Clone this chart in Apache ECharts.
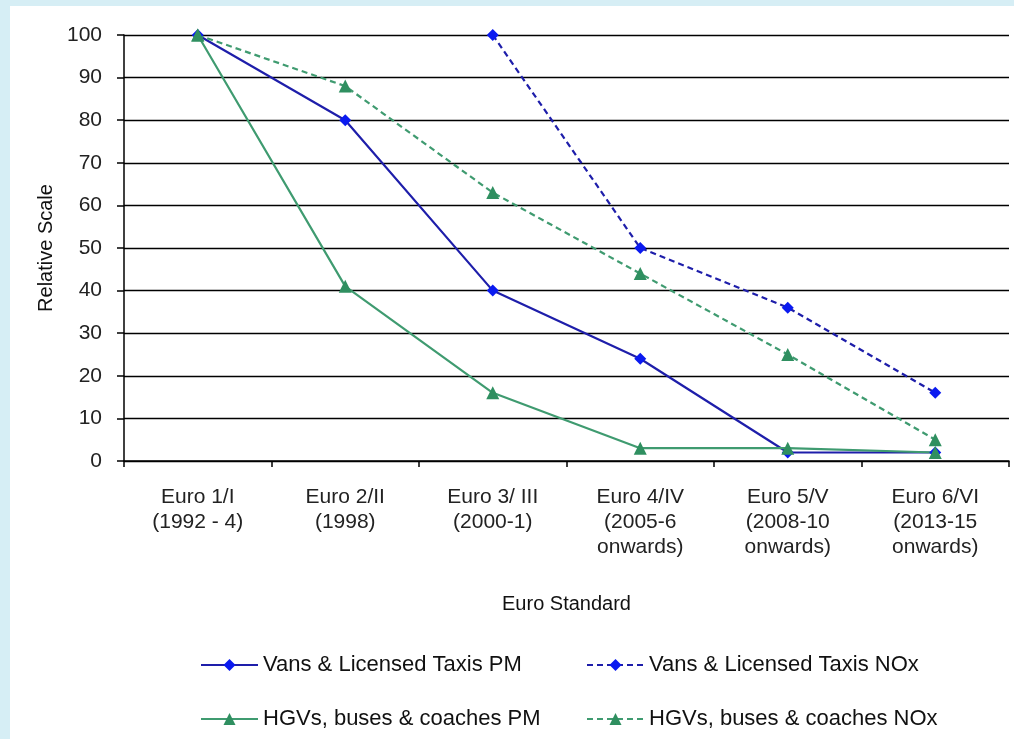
<!DOCTYPE html>
<html>
<head>
<meta charset="utf-8">
<script src="https://cdn.jsdelivr.net/npm/echarts@6/dist/echarts.min.js"></script>
<style>
  html, body { margin: 0; padding: 0; background: #d6eef5; }
  #chart { position: absolute; left: 10px; top: 6px; width: 1004px; height: 733px; background: #ffffff; }
</style>
</head>
<body>
<div id="chart"></div>
<script>
// Euro emission standards and relative emission limits (Euro 1 = 100)
const categories = [
  'Euro 1/I\n(1992 - 4)',
  'Euro 2/II\n(1998)',
  'Euro 3/ III\n(2000-1)',
  'Euro 4/IV\n(2005-6\nonwards)',
  'Euro 5/V\n(2008-10\nonwards)',
  'Euro 6/VI\n(2013-15\nonwards)'
];
const vansPM   = [100, 80, 40, 24, 2, 2];
const vansNOx  = [null, null, 100, 50, 36, 16];
const hgvPM    = [100, 41, 16, 3, 3, 2];
const hgvNOx   = [100, 88, 63, 44, 25, 5];
const yTicks   = { min: 0, max: 100, interval: 10 };

const FONT = '"Liberation Sans", Arial, sans-serif';
const BLUE_LINE = '#1e1eaa';
const BLUE_MARK = '#0a1af0';
const GREEN_LINE = '#3f9b70';
const GREEN_MARK = '#2f8f60';

function lineSeries(name, data, lineColor, markColor, dashed, symbol, size) {
  return {
    name: name,
    type: 'line',
    data: data,
    symbol: symbol,
    symbolSize: size,
    connectNulls: false,
    lineStyle: { color: lineColor, width: 2.2, type: dashed ? [6, 4] : 'solid' },
    itemStyle: { color: markColor, borderWidth: 0 },
    emphasis: { disabled: true },
    animation: false
  };
}

const series = [
  lineSeries('Vans & Licensed Taxis PM', vansPM, BLUE_LINE, BLUE_MARK, false, 'diamond', 12),
  lineSeries('Vans & Licensed Taxis NOx', vansNOx, BLUE_LINE, BLUE_MARK, true, 'diamond', 12),
  lineSeries('HGVs, buses & coaches PM', hgvPM, GREEN_LINE, GREEN_MARK, false, 'triangle', 13),
  lineSeries('HGVs, buses & coaches NOx', hgvNOx, GREEN_LINE, GREEN_MARK, true, 'triangle', 13)
];

const legendPos = [
  { left: 185, top: 643 },
  { left: 571, top: 643 },
  { left: 185, top: 697 },
  { left: 571, top: 697 }
];

const legends = series.map(function (s, i) {
  return {
    data: [s.name],
    left: legendPos[i].left,
    top: legendPos[i].top,
    itemWidth: 57,
    itemHeight: 15,
    selectedMode: false,
    textStyle: { fontFamily: FONT, fontSize: 22, color: '#111' }
  };
});

const chart = echarts.init(document.getElementById('chart'), null, { renderer: 'canvas' });
chart.setOption({
  animation: false,
  grid: { left: 114, right: 5, top: 29, bottom: 278 },
  legend: legends,
  xAxis: {
    type: 'category',
    data: categories,
    boundaryGap: true,
    name: 'Euro Standard',
    nameLocation: 'middle',
    nameGap: 133,
    nameTextStyle: { fontFamily: FONT, fontSize: 20, color: '#111' },
    axisLine: { lineStyle: { color: '#000', width: 1.5 } },
    axisTick: { show: true, length: 6, lineStyle: { color: '#000', width: 1.5 } },
    axisLabel: {
      fontFamily: FONT, fontSize: 21, color: '#222',
      lineHeight: 25, margin: 24, interval: 0
    },
    splitLine: { show: false }
  },
  yAxis: {
    type: 'value',
    min: yTicks.min,
    max: yTicks.max,
    interval: yTicks.interval,
    name: 'Relative Scale',
    nameLocation: 'middle',
    nameGap: 68,
    nameTextStyle: { fontFamily: FONT, fontSize: 20, color: '#111' },
    axisLine: { show: true, lineStyle: { color: '#000', width: 1.5 } },
    axisTick: { show: true, inside: false, length: 7, lineStyle: { color: '#000', width: 1.5 } },
    axisLabel: { fontFamily: FONT, fontSize: 21, color: '#222', margin: 22 },
    splitLine: { show: true, lineStyle: { color: '#000', width: 1.3 } }
  },
  series: series
});
</script>
</body>
</html>
